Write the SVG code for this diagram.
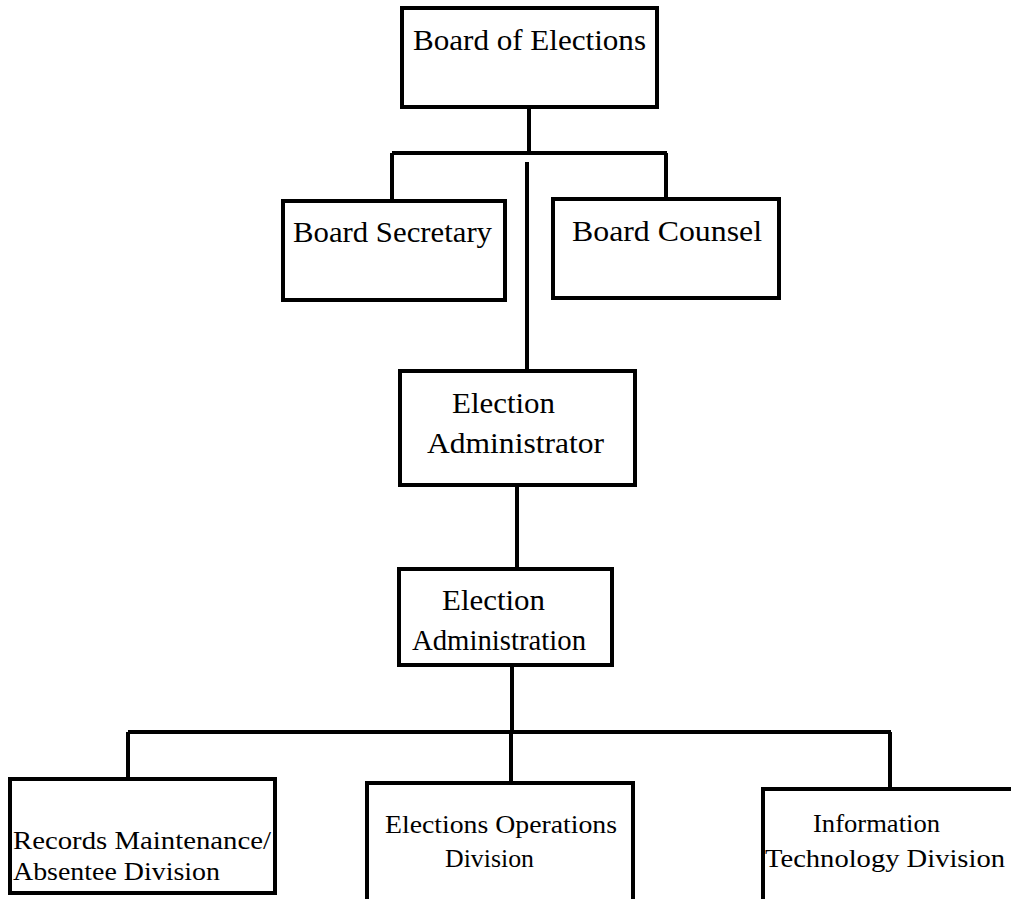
<svg xmlns="http://www.w3.org/2000/svg" width="1011" height="899" viewBox="0 0 1011 899">
<style>
.box{fill:#fff;stroke:#000;stroke-width:4}
.ln{stroke:#000;stroke-width:4;fill:none}
.t{font-family:"Liberation Serif","Times New Roman",serif;font-size:30px;fill:#000}
.s{font-family:"Liberation Serif","Times New Roman",serif;font-size:25px;fill:#000}
</style>
<rect width="1011" height="899" fill="#fff"/>
<g id="connectors">
<path class="ln" d="M529 107V153M392 153H667M392 153V201M666 153V199"/>
<path class="ln" d="M527 162V371"/>
<path class="ln" d="M517 485V569"/>
<path class="ln" d="M512 665V732M128 732H891M128 732V779M511 732V783M890 732V789"/>
</g>
<g id="board-of-elections">
<rect class="box" x="402" y="8" width="255" height="99"/>
<text class="t" x="413" y="50" textLength="233" lengthAdjust="spacingAndGlyphs">Board of Elections</text>
</g>
<g id="board-secretary">
<rect class="box" x="283" y="201" width="222" height="99"/>
<text class="t" x="293" y="242" textLength="199" lengthAdjust="spacingAndGlyphs">Board Secretary</text>
</g>
<g id="board-counsel">
<rect class="box" x="553" y="199" width="226" height="99"/>
<text class="t" x="572" y="241" textLength="190" lengthAdjust="spacingAndGlyphs">Board Counsel</text>
</g>
<g id="election-administrator">
<rect class="box" x="400" y="371" width="235" height="114"/>
<text class="t" x="452" y="413" textLength="103" lengthAdjust="spacingAndGlyphs">Election</text>
<text class="t" x="427" y="453" textLength="177" lengthAdjust="spacingAndGlyphs">Administrator</text>
</g>
<g id="election-administration">
<rect class="box" x="399" y="569" width="213" height="96"/>
<text class="t" x="442" y="610" textLength="103" lengthAdjust="spacingAndGlyphs">Election</text>
<text class="t" x="412" y="650" textLength="174" lengthAdjust="spacingAndGlyphs">Administration</text>
</g>
<g id="records-maintenance">
<rect class="box" x="10" y="779" width="265" height="114"/>
<text class="s" x="13" y="849" textLength="258" lengthAdjust="spacingAndGlyphs">Records Maintenance/</text>
<text class="s" x="13" y="880" textLength="207" lengthAdjust="spacingAndGlyphs">Absentee Division</text>
</g>
<g id="elections-operations">
<rect class="box" x="367" y="783" width="266" height="130"/>
<text class="s" x="385" y="833" textLength="232" lengthAdjust="spacingAndGlyphs">Elections Operations</text>
<text class="s" x="445" y="867" textLength="89" lengthAdjust="spacingAndGlyphs">Division</text>
</g>
<g id="information-technology">
<rect class="box" x="763" y="789" width="270" height="130"/>
<text class="s" x="813" y="832" textLength="127" lengthAdjust="spacingAndGlyphs">Information</text>
<text class="s" x="765" y="867" textLength="240" lengthAdjust="spacingAndGlyphs">Technology Division</text>
</g>
</svg>
